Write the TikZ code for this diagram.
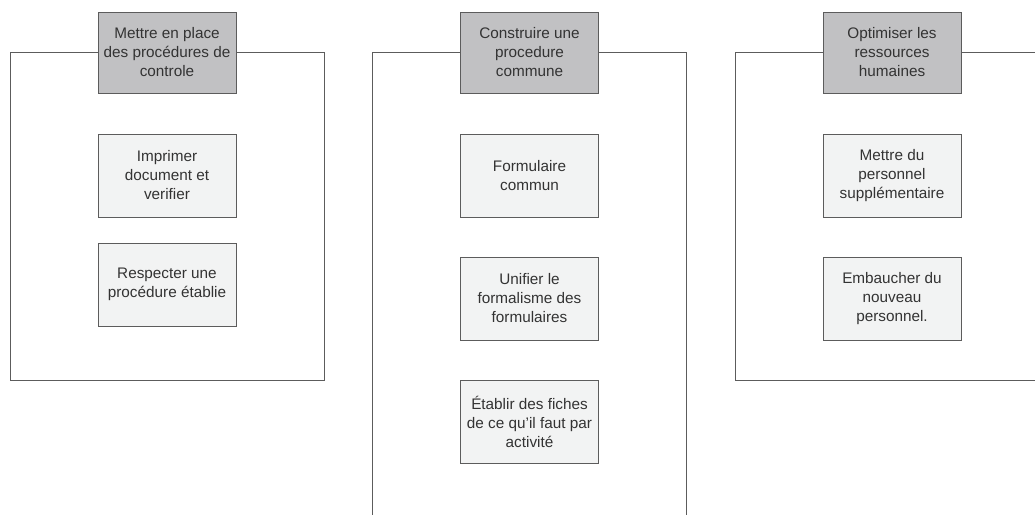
\documentclass[tikz,border=0pt]{standalone}
\usepackage{fontspec}
\setmainfont{Liberation Sans}
\usepackage{tikz}
\usetikzlibrary{positioning}
\definecolor{hdrgrey}{HTML}{C1C1C3}
\definecolor{boxgrey}{HTML}{F2F3F3}
\definecolor{linegrey}{HTML}{5C5C5C}
\definecolor{txtgrey}{HTML}{333333}
\tikzstyle{header} = [rectangle, minimum width=138pt, minimum height=81pt, text centered, align=center, fill=hdrgrey, draw=linegrey, line width=0.8pt]
\tikzstyle{action} = [rectangle, minimum width=138pt, minimum height=83pt, text centered, align=center, fill=boxgrey, draw=linegrey, line width=0.8pt]
\tikzstyle{frame} = [draw=linegrey, line width=0.8pt]

\begin{document}
\begin{tikzpicture}[x=1pt, y=-1pt, node distance=123pt, every node/.style={text=txtgrey, font=\fontsize{15.3}{19}\selectfont}]
\useasboundingbox (0,0) rectangle (1035,514);
\clip (0,0) rectangle (1035,514);
% corners of the frames
\coordinate (f1bl) at (10,380);
\coordinate (f1br) at (324,380);
\coordinate (f2bl) at (372,540);
\coordinate (f2br) at (686,540);
\coordinate (f3bl) at (735,380);
\coordinate (f3br) at (1049,380);
% headers
\node (hdr1) [header] at (167,52.5) {Mettre en place\\des procédures de\\controle};
\node (hdr2) [header] at (529.5,52.5) {Construire une\\procedure\\commune};
\node (hdr3) [header] at (892,52.5) {Optimiser les\\ressources\\humaines};
% frames
\draw [frame] (hdr1.west) -| (f1bl) -- (f1br) |- (hdr1.east);
\draw [frame] (hdr2.west) -| (f2bl) -- (f2br) |- (hdr2.east);
\draw [frame] (hdr3.west) -| (f3bl) -- (f3br) |- (hdr3.east);
% actions
\node (act11) [action, below of=hdr1] {Imprimer\\document et\\verifier};
\node (act12) [action, below of=act11, node distance=109pt] {Respecter une\\procédure établie};
\node (act21) [action, below of=hdr2] {Formulaire\\commun};
\node (act22) [action, below of=act21] {Unifier le\\formalisme des\\formulaires};
\node (act23) [action, below of=act22] {Établir des fiches\\de ce qu’il faut par\\activité};
\node (act31) [action, below of=hdr3] {Mettre du\\personnel\\supplémentaire};
\node (act32) [action, below of=act31] {Embaucher du\\nouveau\\personnel.};
\end{tikzpicture}
\end{document}
